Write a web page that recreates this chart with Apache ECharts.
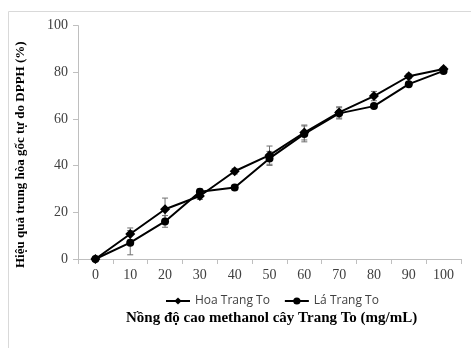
<!DOCTYPE html>
<html><head><meta charset="utf-8">
<script src="https://cdn.jsdelivr.net/npm/echarts@6/dist/echarts.min.js"></script>
<style>html,body{margin:0;padding:0;background:#fff}#c{width:471px;height:348px}</style>
</head><body><div id="c"></div>
<script>
var categories = ['0','10','20','30','40','50','60','70','80','90','100'];
var hoaValues = [0, 10.7, 21.3, 27.0, 37.6, 44.5, 54.2, 62.8, 69.8, 78.3, 81.4];
var hoaErrors = [0, 2.6, 4.8, 1.5, 1.2, 3.9, 3.2, 2.4, 2.0, 1.0, 0.8];
var laValues  = [0, 7.0, 16.1, 28.8, 30.6, 43.1, 53.6, 62.4, 65.5, 74.9, 80.6];
var laErrors  = [0, 5.2, 2.5, 1.2, 1.0, 3.0, 3.4, 2.4, 1.0, 1.0, 0.8];
var yTicks = {min: 0, max: 100, interval: 20};
var xTitle = 'Nồng độ cao methanol cây Trang To (mg/mL)';
var yTitle = 'Hiệu quả trung hòa gốc tự do DPPH (%)';

function errData(vals, errs) {
  return vals.map(function (v, i) { return [i, v - errs[i], v + errs[i]]; });
}
function errSeries(vals, errs) {
  return {
    type: 'custom', silent: true, z: 1,
    data: errData(vals, errs),
    renderItem: function (params, api) {
      var lo = api.coord([api.value(0), api.value(1)]);
      var hi = api.coord([api.value(0), api.value(2)]);
      if (Math.abs(hi[1] - lo[1]) < 1) return null;
      var w = 3;
      var st = {stroke: '#6f6f6f', lineWidth: 1};
      return {type: 'group', children: [
        {type: 'line', shape: {x1: lo[0], y1: lo[1], x2: hi[0], y2: hi[1]}, style: st},
        {type: 'line', shape: {x1: lo[0]-w, y1: lo[1], x2: lo[0]+w, y2: lo[1]}, style: st},
        {type: 'line', shape: {x1: hi[0]-w, y1: hi[1], x2: hi[0]+w, y2: hi[1]}, style: st}
      ]};
    }
  };
}

var chart = echarts.init(document.getElementById('c'), null, {renderer: 'canvas'});
chart.setOption({
  animation: false,
  graphic: [
    {type: 'rect', shape: {x: 8.5, y: 11.5, width: 480, height: 360}, style: {fill: 'none', stroke: '#d9d9d9', lineWidth: 1}, z: -10},
    {type: 'text', left: 126, top: 311, style: {text: xTitle, font: 'bold 15px "Liberation Serif"', fill: '#000'}},
    {type: 'text', rotation: Math.PI / 2, x: 14, y: 268, style: {text: yTitle, font: 'bold 13px "Liberation Serif"', fill: '#000'}}
  ],
  grid: {left: 78, right: 10, top: 25.6, bottom: 89, containLabel: false},
  legend: {
    left: 160, top: 290, itemWidth: 24, itemHeight: 9, itemGap: 14,
    textStyle: {fontFamily: '"Open Sans", "Liberation Sans", sans-serif', fontSize: 12, color: '#404040'},
    data: ['Hoa Trang To', 'Lá Trang To']
  },
  xAxis: {
    type: 'category', data: categories, boundaryGap: true,
    axisLine: {lineStyle: {color: '#bfbfbf', width: 1}},
    axisTick: {show: true, inside: false, length: 5, lineStyle: {color: '#bfbfbf'}},
    axisLabel: {fontFamily: '"Liberation Serif"', fontSize: 14, color: '#404040', margin: 9}
  },
  yAxis: {
    type: 'value', min: yTicks.min, max: yTicks.max, interval: yTicks.interval,
    splitLine: {show: false},
    axisLine: {show: true, lineStyle: {color: '#bfbfbf', width: 1}},
    axisTick: {show: true, inside: false, length: 5, lineStyle: {color: '#bfbfbf'}},
    axisLabel: {fontFamily: '"Liberation Serif"', fontSize: 14, color: '#404040', margin: 10}
  },
  series: [
    errSeries(hoaValues, hoaErrors),
    errSeries(laValues, laErrors),
    {name: 'Hoa Trang To', type: 'line', data: hoaValues, symbol: 'diamond', symbolSize: 10, z: 3,
     lineStyle: {color: '#000', width: 2}, itemStyle: {color: '#000'}},
    {name: 'Lá Trang To', type: 'line', data: laValues, symbol: 'circle', symbolSize: 8, z: 3,
     lineStyle: {color: '#000', width: 2}, itemStyle: {color: '#000'}}
  ]
});
</script></body></html>
